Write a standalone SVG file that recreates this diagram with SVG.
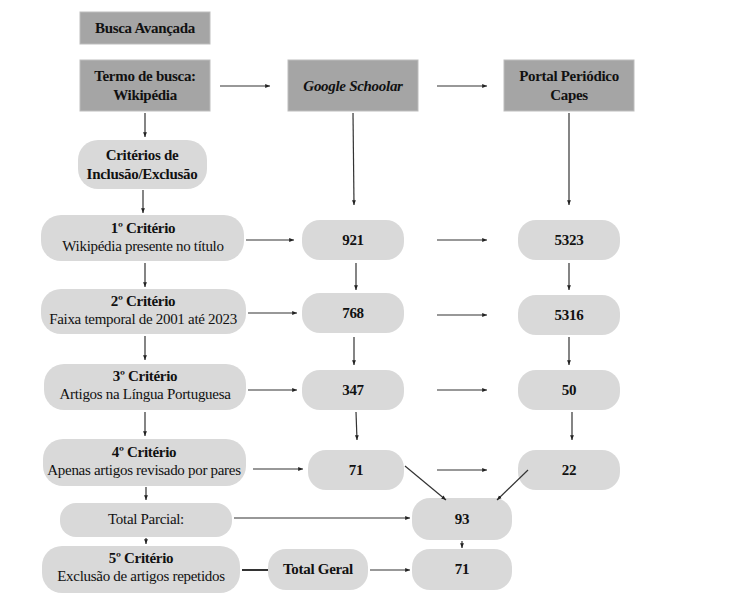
<svg xmlns="http://www.w3.org/2000/svg" width="737" height="604" viewBox="0 0 737 604" font-family="'Liberation Serif', 'Times New Roman', 'DejaVu Serif', serif">
<defs>
<marker id="a" viewBox="0 0 10 10" refX="10" refY="5" markerWidth="4" markerHeight="4" orient="auto"><path d="M0,1L10,5L0,9z" fill="#222"/></marker>
<style>
.sq{fill:#a5a5a5;stroke:#bdbdbd;stroke-width:1}
.rd{fill:#d9d9d9}
text{font-family:'Liberation Serif','Times New Roman','DejaVu Serif',serif;font-size:15px;fill:#111;text-anchor:middle;letter-spacing:-0.3px}
.b{font-weight:bold}
.c line{stroke:#333;stroke-width:1.2;marker-end:url(#a)}
</style>
</defs>
<rect width="737" height="604" fill="#fff"/>
<g id="busca"><rect class="sq" x="80" y="12" width="130" height="32"/><text class="b" x="145" y="33">Busca Avançada</text></g>
<g id="termo"><rect class="sq" x="80" y="60" width="130" height="51"/><text class="b" x="145" y="81">Termo de busca:</text><text class="b" x="145" y="100">Wikipédia</text></g>
<g id="google"><rect class="sq" x="288" y="60" width="130" height="51"/><text class="b" font-style="italic" x="353" y="91">Google Schoolar</text></g>
<g id="portal"><rect class="sq" x="504" y="60" width="130" height="51"/><text class="b" x="569" y="81">Portal Periódico</text><text class="b" x="569" y="100">Capes</text></g>
<g id="criterios"><rect class="rd" x="78" y="140" width="129" height="49" rx="20"/><text class="b" x="142" y="160">Critérios de</text><text class="b" x="142" y="179">Inclusão/Exclusão</text></g>
<g id="c1"><rect class="rd" x="41" y="215" width="203" height="46" rx="20"/><text class="b" x="143" y="233" font-size="13">1º Critério</text><text x="143" y="251">Wikipédia  presente no título</text></g>
<g id="c2"><rect class="rd" x="41" y="289" width="205" height="45" rx="20"/><text class="b" x="143" y="306" font-size="13">2º Critério</text><text x="143" y="324">Faixa temporal de 2001 até 2023</text></g>
<g id="c3"><rect class="rd" x="44" y="364" width="202" height="46" rx="20"/><text class="b" x="145" y="381" font-size="13">3º Critério</text><text x="145" y="399">Artigos na Língua Portuguesa</text></g>
<g id="c4"><rect class="rd" x="43" y="439" width="203" height="47" rx="20"/><text class="b" x="144" y="457" font-size="13">4º Critério</text><text x="144" y="475">Apenas artigos revisado por pares</text></g>
<g id="parcial"><rect class="rd" x="60" y="503" width="172" height="34" rx="16"/><text x="146" y="524">Total Parcial:</text></g>
<g id="c5"><rect class="rd" x="42" y="546" width="198" height="47" rx="20"/><text class="b" x="141" y="563" font-size="13">5º Critério</text><text x="141" y="581">Exclusão de artigos repetidos</text></g>
<g id="g921"><rect class="rd" x="302" y="220" width="102" height="40" rx="18"/><text class="b" x="353" y="245">921</text></g>
<g id="p5323"><rect class="rd" x="518" y="220" width="102" height="40" rx="18"/><text class="b" x="569" y="245">5323</text></g>
<g id="g768"><rect class="rd" x="302" y="293" width="102" height="40" rx="18"/><text class="b" x="353" y="318">768</text></g>
<g id="p5316"><rect class="rd" x="518" y="295" width="102" height="40" rx="18"/><text class="b" x="569" y="320">5316</text></g>
<g id="g347"><rect class="rd" x="302" y="370" width="102" height="40" rx="18"/><text class="b" x="353" y="395">347</text></g>
<g id="p50"><rect class="rd" x="518" y="370" width="102" height="40" rx="18"/><text class="b" x="569" y="395">50</text></g>
<g id="g71"><rect class="rd" x="308" y="450" width="96" height="40" rx="18"/><text class="b" x="356" y="475">71</text></g>
<g id="p22"><rect class="rd" x="518" y="450" width="102" height="40" rx="18"/><text class="b" x="569" y="475">22</text></g>
<g id="t93"><rect class="rd" x="412" y="498" width="100" height="42" rx="18"/><text class="b" x="462" y="524">93</text></g>
<g id="geral"><rect class="rd" x="268" y="549" width="100" height="41" rx="18"/><text class="b" x="318" y="574">Total Geral</text></g>
<g id="t71"><rect class="rd" x="412" y="549" width="100" height="41" rx="18"/><text class="b" x="462" y="574">71</text></g>
<g class="c">
<line x1="220" y1="86" x2="270" y2="86"/>
<line x1="437" y1="86" x2="487" y2="86"/>
<line x1="145" y1="113" x2="145" y2="137"/>
<line x1="353" y1="113" x2="354" y2="205"/>
<line x1="569" y1="113" x2="569" y2="205"/>
<line x1="143" y1="190" x2="143" y2="213"/>
<line x1="246" y1="240" x2="294" y2="240"/>
<line x1="437" y1="240" x2="487" y2="240"/>
<line x1="145" y1="263" x2="145" y2="287"/>
<line x1="356" y1="263" x2="356" y2="290"/>
<line x1="569" y1="263" x2="569" y2="290"/>
<line x1="248" y1="313" x2="297" y2="313"/>
<line x1="437" y1="315" x2="487" y2="315"/>
<line x1="145" y1="336" x2="145" y2="360"/>
<line x1="354" y1="337" x2="354" y2="365"/>
<line x1="569" y1="337" x2="569" y2="365"/>
<line x1="248" y1="390" x2="297" y2="390"/>
<line x1="437" y1="390" x2="487" y2="390"/>
<line x1="145" y1="412" x2="145" y2="436"/>
<line x1="356" y1="412" x2="357" y2="440"/>
<line x1="572" y1="412" x2="572" y2="440"/>
<line x1="253" y1="469" x2="303" y2="469"/>
<line x1="437" y1="470" x2="487" y2="470"/>
<line x1="405" y1="466" x2="446" y2="500"/>
<line x1="528" y1="470" x2="497" y2="500"/>
<line x1="146" y1="487" x2="146" y2="500"/>
<line x1="234" y1="518" x2="410" y2="518"/>
<line x1="146" y1="538" x2="146" y2="544"/>
<line x1="462" y1="541" x2="462" y2="548"/>
<line x1="370" y1="570" x2="410" y2="570"/>
<line x1="242" y1="570" x2="268" y2="570" style="marker-end:none;stroke-width:2"/>
</g>
</svg>
